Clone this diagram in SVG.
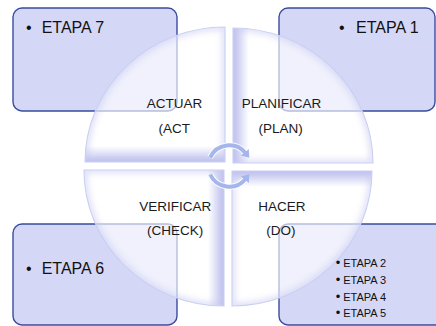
<svg xmlns="http://www.w3.org/2000/svg" width="436" height="326" viewBox="0 0 436 326">
  <style>
    .box { fill: #D5D7F7; stroke: #3A4C9F; stroke-width: 1.4; }
    .quad { fill: #FFFFFF; fill-opacity: 0.64; }
    .edge { fill: none; stroke: #C9D0F2; stroke-width: 1.1; }
    .big { font-family: "Liberation Sans", Arial, sans-serif; font-size: 16px; fill: #111111; }
    .small { font-family: "Liberation Sans", Arial, sans-serif; font-size: 11px; fill: #111111; }
    .dot { font-size: 13px; }
    .lbl { font-family: "Liberation Sans", Arial, sans-serif; font-size: 13.5px; fill: #1A1A1A; }
    .arc { fill: none; stroke: #A4B6EC; stroke-width: 4; stroke-linecap: butt; }
    .arcEdge { fill: none; stroke: #FFFFFF; stroke-width: 6; opacity: 0.9; }
  </style>
  <defs>
    <!-- quadrant outlines -->
    <path id="qTL" d="M225,162 L85,162 A140,135 0 0 1 225,27 Z"/>
    <path id="qTR" d="M233,163 L233,28 A140,135 0 0 1 373,163 Z"/>
    <path id="qBR" d="M232,171 L372,171 A140,135 0 0 1 232,306 Z"/>
    <path id="qBL" d="M224,170 L224,306 A140,136 0 0 1 84,170 Z"/>
    <clipPath id="cTL"><use href="#qTL"/></clipPath>
    <clipPath id="cTR"><use href="#qTR"/></clipPath>
    <clipPath id="cBR"><use href="#qBR"/></clipPath>
    <clipPath id="cBL"><use href="#qBL"/></clipPath>
    <!-- edge shading, one per quadrant -->
    <linearGradient id="gTL" gradientUnits="userSpaceOnUse" x1="0" y1="162" x2="0" y2="146">
      <stop offset="0" stop-color="#B3B4EA" stop-opacity="0.85"/>
      <stop offset="1" stop-color="#B3B4EA" stop-opacity="0"/>
    </linearGradient>
    <linearGradient id="gTR" gradientUnits="userSpaceOnUse" x1="233" y1="0" x2="249" y2="0">
      <stop offset="0" stop-color="#B3B4EA" stop-opacity="0.85"/>
      <stop offset="1" stop-color="#B3B4EA" stop-opacity="0"/>
    </linearGradient>
    <linearGradient id="gBR" gradientUnits="userSpaceOnUse" x1="0" y1="171" x2="0" y2="187">
      <stop offset="0" stop-color="#B3B4EA" stop-opacity="0.85"/>
      <stop offset="1" stop-color="#B3B4EA" stop-opacity="0"/>
    </linearGradient>
    <linearGradient id="gBL" gradientUnits="userSpaceOnUse" x1="224" y1="0" x2="208" y2="0">
      <stop offset="0" stop-color="#B3B4EA" stop-opacity="0.85"/>
      <stop offset="1" stop-color="#B3B4EA" stop-opacity="0"/>
    </linearGradient>
    <filter id="soft" x="-20%" y="-20%" width="140%" height="140%">
      <feGaussianBlur stdDeviation="3"/>
    </filter>
    <marker id="head" markerUnits="userSpaceOnUse" markerWidth="12" markerHeight="12" refX="1" refY="6" orient="auto">
      <path d="M0,1 L7,6 L0,11 Z" fill="#A4B6EC"/>
    </marker>
  </defs>

  <rect width="436" height="326" fill="#FFFFFF"/>

  <!-- stage boxes -->
  <g id="box-etapa7">
    <rect class="box" x="13" y="8" width="164" height="103" rx="9"/>
    <text class="big" y="33.3"><tspan x="26">•</tspan><tspan x="41.7">ETAPA 7</tspan></text>
  </g>
  <g id="box-etapa1">
    <rect class="box" x="279" y="8" width="156" height="103" rx="9"/>
    <text class="big" y="33.3"><tspan x="339">•</tspan><tspan x="356">ETAPA 1</tspan></text>
  </g>
  <g id="box-etapa6">
    <rect class="box" x="13" y="224" width="164" height="101" rx="9"/>
    <text class="big" y="274"><tspan x="26">•</tspan><tspan x="41.7">ETAPA 6</tspan></text>
  </g>
  <g id="box-etapa2-5">
    <rect class="box" x="279" y="224" width="170" height="101" rx="9"/>
  </g>

  <!-- cycle quadrants -->
  <g id="quad-actuar">
    <use href="#qTL" class="quad"/>
    <rect x="85" y="140" width="140" height="22" fill="url(#gTL)" clip-path="url(#cTL)"/>
    <g clip-path="url(#cTL)"><use href="#qTL" fill="none" stroke="#C4C6F0" stroke-width="6" filter="url(#soft)" opacity="0.6"/></g>
    <use href="#qTL" class="edge"/>
    <text class="lbl" x="146.7" y="108.3">ACTUAR</text>
    <text class="lbl" x="158.5" y="132.5">(ACT</text>
  </g>
  <g id="quad-planificar">
    <use href="#qTR" class="quad"/>
    <rect x="233" y="28" width="22" height="135" fill="url(#gTR)" clip-path="url(#cTR)"/>
    <g clip-path="url(#cTR)"><use href="#qTR" fill="none" stroke="#C4C6F0" stroke-width="6" filter="url(#soft)" opacity="0.6"/></g>
    <use href="#qTR" class="edge"/>
    <text class="lbl" x="241.7" y="108.3">PLANIFICAR</text>
    <text class="lbl" x="258.5" y="132.5">(PLAN)</text>
  </g>
  <g id="quad-hacer">
    <use href="#qBR" class="quad"/>
    <rect x="232" y="171" width="140" height="22" fill="url(#gBR)" clip-path="url(#cBR)"/>
    <g clip-path="url(#cBR)"><use href="#qBR" fill="none" stroke="#C4C6F0" stroke-width="6" filter="url(#soft)" opacity="0.6"/></g>
    <use href="#qBR" class="edge"/>
    <text class="lbl" x="258.3" y="211.3">HACER</text>
    <text class="lbl" x="266.3" y="235">(DO)</text>
  </g>
  <g id="quad-verificar">
    <use href="#qBL" class="quad"/>
    <rect x="202" y="170" width="22" height="136" fill="url(#gBL)" clip-path="url(#cBL)"/>
    <g clip-path="url(#cBL)"><use href="#qBL" fill="none" stroke="#C4C6F0" stroke-width="6" filter="url(#soft)" opacity="0.6"/></g>
    <use href="#qBL" class="edge"/>
    <text class="lbl" x="139.3" y="211.3">VERIFICAR</text>
    <text class="lbl" x="147" y="235">(CHECK)</text>
  </g>

  <!-- list of stages 2 to 5, drawn above the quadrant -->
  <g id="list-etapa2-5">
    <text class="small" y="267"><tspan class="dot" x="335.8">•</tspan><tspan x="343.2">ETAPA 2</tspan></text>
    <text class="small" y="284"><tspan class="dot" x="335.8">•</tspan><tspan x="343.2">ETAPA 3</tspan></text>
    <text class="small" y="300.5"><tspan class="dot" x="335.8">•</tspan><tspan x="343.2">ETAPA 4</tspan></text>
    <text class="small" y="317"><tspan class="dot" x="335.8">•</tspan><tspan x="343.2">ETAPA 5</tspan></text>
  </g>

  <!-- circular arrows at the centre -->
  <g id="connectors">
    <path class="arcEdge" d="M210.2,157.5 A21,21 0 0 1 245.5,153"/>
    <path class="arcEdge" d="M210.2,174.5 A21,21 0 0 0 245.5,179"/>
    <path class="arc" d="M210.2,157.5 A21,21 0 0 1 245.5,153" marker-end="url(#head)"/>
    <path class="arc" d="M210.2,174.5 A21,21 0 0 0 245.5,179" marker-end="url(#head)"/>
  </g>
</svg>
